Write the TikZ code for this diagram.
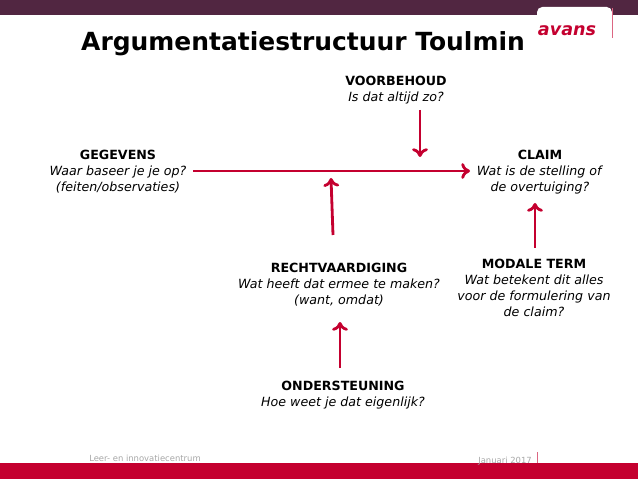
\documentclass[tikz,border=0pt]{standalone}
\usepackage{fontspec}
\setmainfont{DejaVu Sans}
\usetikzlibrary{arrows.meta}
\definecolor{plum}{HTML}{512641}
\definecolor{avred}{HTML}{C4002F}
\begin{document}
\begin{tikzpicture}[x=0.02cm,y=-0.02cm,
  lbl/.style={align=center,font=\fontsize{7.2}{9.1}\selectfont,inner sep=0pt},
  arr/.style={avred,line width=1.6pt,-{To[length=5pt,width=9pt,line width=1.6pt]}}]
\useasboundingbox (0,0) rectangle (638,479);
\fill[plum] (0,0) rectangle (638,15);
\fill[white,rounded corners=3pt] (537,7) rectangle (612,20);
\draw[avred!60,line width=0.5pt] (612,8) -- (612,38);
\node[font=\bfseries\itshape\fontsize{10}{10}\selectfont,text=avred,inner sep=0pt] (logo) at (567,31) {avans};
\node[font=\bfseries\fontsize{14.2}{14.2}\selectfont,inner sep=0pt] (title) at (303,44) {Argumentatiestructuur Toulmin};
\fill[avred] (0,463) rectangle (638,479);
\draw[avred!60,line width=0.5pt] (537,452) -- (537,463);
\node[font=\fontsize{4.8}{6}\selectfont,text=gray!70,inner sep=0pt] (f1) at (145,458) {Leer- en innovatiecentrum};
\node[font=\fontsize{4.8}{6}\selectfont,text=gray!70,inner sep=0pt] (f2) at (505,461) {Januari 2017};

\node[lbl] (geg) at (118,172) {\textbf{GEGEVENS}\\\textit{Waar baseer je je op?}\\\textit{(feiten/observaties)}};
\node[lbl] (voor) at (396,90) {\textbf{VOORBEHOUD}\\\textit{Is dat altijd zo?}};
\node[lbl] (claim) at (540,172) {\textbf{CLAIM}\\\textit{Wat is de stelling of}\\\textit{de overtuiging?}};
\node[lbl] (recht) at (339,285) {\textbf{RECHTVAARDIGING}\\\textit{Wat heeft dat ermee te maken?}\\\textit{(want, omdat)}};
\node[lbl] (mod) at (534,288) {\textbf{MODALE TERM}\\\textit{Wat betekent dit alles}\\\textit{voor de formulering van}\\\textit{de claim?}};
\node[lbl] (onder) at (343,395) {\textbf{ONDERSTEUNING}\\\textit{Hoe weet je dat eigenlijk?}};

\coordinate (h1) at (193,171); \coordinate (h2) at (470,171);
\draw[arr] (h1) -- (h2);
\coordinate (v1) at (420,110); \coordinate (v2) at (420,157);
\draw[arr] (v1) -- (v2);
\coordinate (r1) at (333,235); \coordinate (r2) at (331,178);
\draw[arr] (r1) -- (r2);
\coordinate (m1) at (535,248); \coordinate (m2) at (535,203);
\draw[arr] (m1) -- (m2);
\coordinate (o1) at (340,368); \coordinate (o2) at (340,322);
\draw[arr] (o1) -- (o2);
\end{tikzpicture}
\end{document}
